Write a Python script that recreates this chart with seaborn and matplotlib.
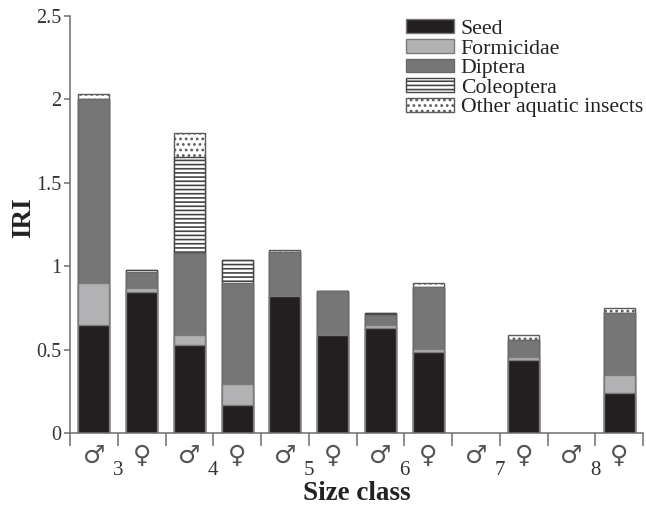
import numpy as np
import pandas as pd
import matplotlib
matplotlib.use("Agg")
import matplotlib.pyplot as plt
from matplotlib.patches import Patch
from matplotlib.transforms import blended_transform_factory
import seaborn as sns

nan = np.nan

# Groups along the x axis: sex within each size class
groups = ["♂3", "♀3", "♂4", "♀4", "♂5", "♀5", "♂6", "♀6", "♂7", "♀7", "♂8", "♀8"]
sex_symbols = ["♂", "♀", "♂", "♀", "♂", "♀", "♂", "♀", "♂", "♀", "♂", "♀"]
size_classes = ["3", "4", "5", "6", "7", "8"]

# IRI of each prey category (no fish sampled for ♂7 and ♂8)
seed =          [0.650, 0.845, 0.525, 0.165, 0.820, 0.585, 0.630, 0.486, nan, 0.437, nan, 0.237]
formicidae =    [0.250, 0.025, 0.065, 0.130, 0.000, 0.000, 0.015, 0.020, nan, 0.020, nan, 0.110]
diptera =       [1.100, 0.095, 0.490, 0.605, 0.265, 0.265, 0.060, 0.370, nan, 0.100, nan, 0.370]
coleoptera =    [0.000, 0.015, 0.575, 0.135, 0.000, 0.000, 0.015, 0.000, nan, 0.000, nan, 0.000]
other_aquatic = [0.035, 0.000, 0.145, 0.000, 0.010, 0.000, 0.000, 0.024, nan, 0.030, nan, 0.030]

categories = ["Seed", "Formicidae", "Diptera", "Coleoptera", "Other aquatic insects"]
y_ticks = [0, 0.5, 1, 1.5, 2, 2.5]
y_tick_labels = ["0", "0.5", "1", "1.5", "2", "2.5"]

sns.set_theme(style="white")
plt.rcParams["font.family"] = ["Liberation Serif", "DejaVu Sans"]
plt.rcParams["hatch.linewidth"] = 1.2

styles = {
    "Seed": dict(color="#231f20", edgecolor="#7a7a7a", hatch=None),
    "Formicidae": dict(color="#b2b2b4", edgecolor="#7a7a7a", hatch=None),
    "Diptera": dict(color="#767677", edgecolor="#6a6a6a", hatch=None),
    "Coleoptera": dict(color="white", edgecolor="#444444", hatch="----"),
    "Other aquatic insects": dict(color="white", edgecolor="#5a5a5a", hatch="..."),
}

df = pd.DataFrame({
    "group": groups,
    "Seed": seed,
    "Formicidae": formicidae,
    "Diptera": diptera,
    "Coleoptera": coleoptera,
    "Other aquatic insects": other_aquatic,
}).dropna()

# cumulative tops for stacking
cum = df[categories].cumsum(axis=1)
cum["group"] = df["group"]

fig = plt.figure(figsize=(6.46, 5.09), dpi=100)
ax = fig.add_axes([0.1084, 0.1493, 0.8870, 0.8193])

# draw tallest cumulative layer first so lower layers cover it
for cat in reversed(categories):
    st = styles[cat]
    kw = dict(hatch=st["hatch"]) if st["hatch"] else {}
    sns.barplot(data=cum, x="group", y=cat, order=groups, color=st["color"],
                saturation=1, width=0.65, edgecolor=st["edgecolor"], linewidth=1.0,
                errorbar=None, ax=ax, **kw)

ax.set_xlim(-0.5, 11.5)
ax.set_ylim(0, 2.5)

spine_color = "#6e6e6e"
for side in ["top", "right"]:
    ax.spines[side].set_visible(False)
for side in ["left", "bottom"]:
    ax.spines[side].set_color(spine_color)
    ax.spines[side].set_linewidth(1.1)

ax.set_yticks(y_ticks)
ax.set_yticklabels(y_tick_labels)
ax.tick_params(axis="y", direction="out", length=4, width=1.1, color=spine_color,
               labelsize=14.5, labelcolor="#333333", pad=2, left=True)

ax.set_xticks(range(len(groups)))
ax.set_xticklabels(sex_symbols, fontfamily="DejaVu Sans")
ax.set_xticks(np.arange(-0.5, len(groups), 1.0), minor=True)
ax.tick_params(axis="x", which="major", length=0, labelsize=18, labelcolor="#555555", pad=8)
ax.tick_params(axis="x", which="minor", direction="out", length=9.5, width=1.1,
               color=spine_color, bottom=True)

trans = blended_transform_factory(ax.transData, ax.transAxes)
for k, sc in enumerate(size_classes):
    ax.text(2 * k + 0.5, -0.09, sc, transform=trans, ha="center", va="center",
            fontsize=15, color="#333333")

ax.set_xlabel("Size class", fontsize=19.5, fontweight="bold", color="#222222")
ax.xaxis.set_label_coords(0.5, -0.115)
ax.set_ylabel("IRI", fontsize=19.5, fontweight="bold", color="#222222")
ax.yaxis.set_label_coords(-0.06, 0.516)

handles = [Patch(facecolor=styles[c]["color"], edgecolor=styles[c]["edgecolor"],
                 hatch=styles[c]["hatch"], linewidth=1.0) for c in categories]
ax.legend(handles, categories, loc="upper right", bbox_to_anchor=(1.0, 0.992),
          frameon=False, fontsize=15.7, handlelength=2.2, handleheight=0.6,
          handletextpad=0.32, labelspacing=0.0, borderpad=0, borderaxespad=0,
          labelcolor="#222222")

fig.savefig("out.png", dpi=100)
